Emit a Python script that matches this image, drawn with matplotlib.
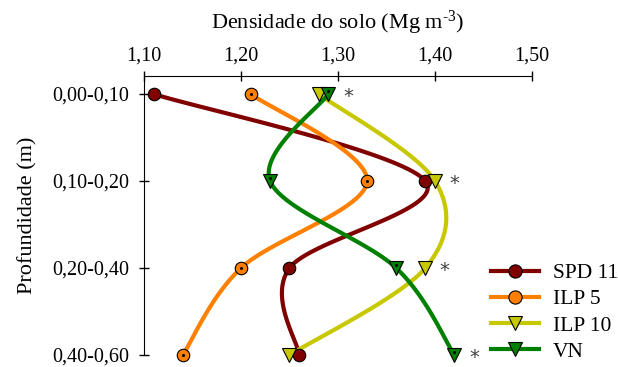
import numpy as np
import matplotlib
matplotlib.use("Agg")
import matplotlib.pyplot as plt
from matplotlib.lines import Line2D

depths = ["0,00-0,10", "0,10-0,20", "0,20-0,40", "0,40-0,60"]
spd11 = [1.11, 1.39, 1.25, 1.26]
ilp5 = [1.21, 1.33, 1.20, 1.14]
ilp10 = [1.28, 1.40, 1.39, 1.25]
vn = [1.29, 1.23, 1.36, 1.42]
star_x = [1.306, 1.415, 1.404, 1.435]
xticks = [1.10, 1.20, 1.30, 1.40, 1.50]
xticklabels = ["1,10", "1,20", "1,30", "1,40", "1,50"]

plt.rcParams['font.family'] = ['Liberation Serif', 'DejaVu Serif']
plt.rcParams['mathtext.fontset'] = 'custom'
plt.rcParams['mathtext.rm'] = 'Liberation Serif'
plt.rcParams['mathtext.it'] = 'Liberation Serif:italic'


def catmull(xs, ys, n=40):
    P = np.column_stack([xs, ys]).astype(float)
    P = np.vstack([P[0], P, P[-1]])
    out = []
    for i in range(1, len(P) - 2):
        p0, p1, p2, p3 = P[i - 1], P[i], P[i + 1], P[i + 2]
        t = np.linspace(0, 1, n)[:, None]
        seg = 0.5 * ((2 * p1) + (-p0 + p2) * t + (2 * p0 - 5 * p1 + 4 * p2 - p3) * t ** 2
                     + (-p0 + 3 * p1 - 3 * p2 + p3) * t ** 3)
        out.append(seg if i == 1 else seg[1:])
    out = np.vstack(out)
    return out[:, 0], out[:, 1]


fig = plt.figure(figsize=(6.18, 3.67), dpi=100)
ax = fig.add_axes([144 / 618, 1 - 355 / 367, (532 - 144) / 618, (355 - 76) / 367])

yidx = np.arange(len(depths))
series = [
    ("SPD 11", spd11, "#800000", "o", False),
    ("ILP 5", ilp5, "#FF8000", "o", True),
    ("ILP 10", ilp10, "#C8C800", "v", False),
    ("VN", vn, "#008000", "v", True),
]
handles = []
for name, vals, col, mk, dot in series:
    sx, sy = catmull(vals, yidx)
    ax.plot(sx, sy, color=col, lw=3, solid_capstyle='round', clip_on=False, zorder=2)
    ms = 9 if mk == "o" else 9.5
    ax.plot(vals, yidx, linestyle='none', marker=mk, markersize=ms, markerfacecolor=col,
            markeredgecolor='black', markeredgewidth=0.8, clip_on=False, zorder=3)
    if dot:
        ax.plot(vals, yidx + (0 if mk == "o" else -0.03), linestyle='none', marker='o', markersize=1.2,
                color='black', clip_on=False, zorder=4)
    handles.append(Line2D([0], [0], color=col, lw=3, marker=mk, markersize=ms + 0.5,
                          markerfacecolor=col, markeredgecolor='black', markeredgewidth=0.8))

for sxv, yv in zip(star_x, yidx):
    ax.text(sxv, yv + 0.03, "*", fontsize=14, color='#404040', ha='left', va='center',
            family=['DejaVu Sans'])

ax.set_xlim(1.10, 1.50)
ax.set_ylim(3, -0.207)
ax.xaxis.tick_top()
ax.xaxis.set_label_position('top')
ax.set_xticks(xticks)
ax.set_xticklabels(xticklabels)
ax.set_yticks(yidx)
ax.set_yticklabels(depths)
ax.tick_params(axis='x', direction='inout', length=7, width=1, labelsize=14.5, pad=4)
ax.tick_params(axis='y', direction='inout', length=7, width=1, labelsize=14.5, pad=7)
for s in ['right', 'bottom']:
    ax.spines[s].set_visible(False)
ax.set_xlabel("Densidade do solo (Mg m$^{\\mathregular{\u20103}}$)", fontsize=16, labelpad=13)
ax.set_ylabel("Profundidade (m)", fontsize=16, labelpad=11)

fig.legend(handles, [s[0] for s in series], loc='lower left', bbox_to_anchor=(482 / 618, -0.009),
           frameon=False, fontsize=15.5, handlelength=2.25, labelspacing=0.28, handletextpad=0.65,
           borderaxespad=0)

fig.savefig("out.png", dpi=100)
